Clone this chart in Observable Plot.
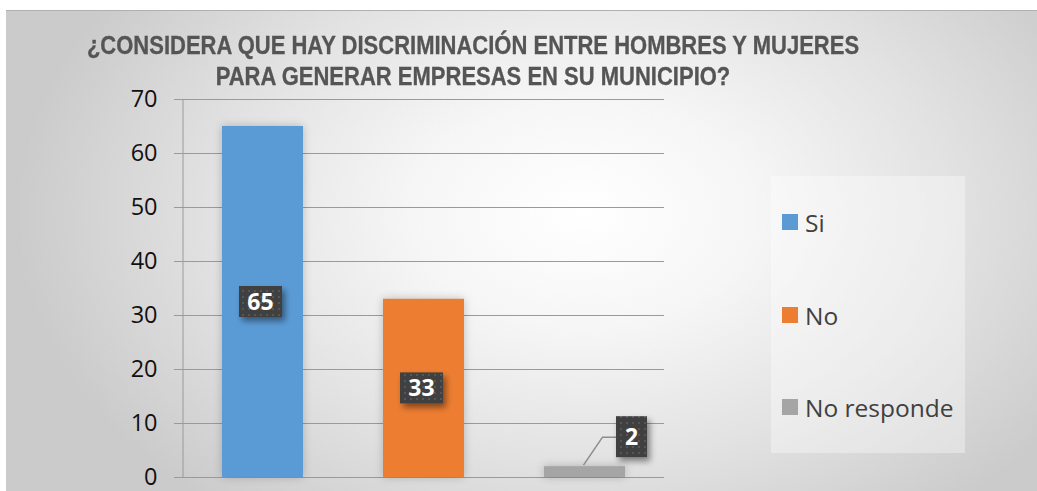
<!DOCTYPE html>
<html><head><meta charset="utf-8">
<script src="https://cdn.jsdelivr.net/npm/d3@7"></script>
<script src="https://cdn.jsdelivr.net/npm/@observablehq/plot@0.6"></script>
<style>
body{margin:0;background:#fff;}
#wrap{position:relative;width:1037px;height:491px;overflow:hidden;font-family:"Open Sans",sans-serif;}
#bg{position:absolute;left:6px;top:10px;right:0;bottom:0;
  background:radial-gradient(ellipse 55% 80% at 56% 42%, #ffffff 0%, #f6f6f6 30%, #e2e2e2 65%, #cbcbcb 100%);
  border-top:1px solid #b0b0b0;}
#title{position:absolute;left:0;width:946px;top:30px;text-align:center;font-weight:bold;color:#555555;
  font-family:"Liberation Sans",Arial,sans-serif;font-size:25px;line-height:31px;
  transform:scaleX(0.88);transform-origin:473px 0;-webkit-text-stroke:0.3px #555555;}
#chart{position:absolute;left:0;top:0;}
#legend{position:absolute;left:771px;top:176px;width:194px;height:277px;background:rgba(255,255,255,0.35);}
.li{position:absolute;left:11px;height:30px;display:flex;align-items:center;color:#404040;font-size:24.5px;}
.li span.sw{display:inline-block;width:16px;height:16px;margin-right:7px;}
svg g[aria-label="bar"] rect{filter:drop-shadow(0 0 4px rgba(0,0,0,0.22));}
</style>
</head><body>
<div id="wrap"><div id="bg"></div><div id="title">¿CONSIDERA QUE HAY DISCRIMINACIÓN ENTRE HOMBRES Y MUJERES<br>PARA GENERAR EMPRESAS EN SU MUNICIPIO?</div><div id="chart"></div><div id="legend"></div></div>
<script>
const categories = ["Si", "No", "No responde"];
const values = [65, 33, 2];
const colors = ["#5B9BD5", "#ED7D31", "#A5A5A5"];
const yTicks = [0, 10, 20, 30, 40, 50, 60, 70];

const data = categories.map((c, i) => ({category: c, value: values[i]}));

function leftAxisLine(index, scales, vals, dims) {
  const g = d3.create("svg:g");
  g.append("line")
    .attr("x1", dims.marginLeft).attr("x2", dims.marginLeft)
    .attr("y1", scales.y(70)).attr("y2", scales.y(0))
    .attr("stroke", "#9a9a9a");
  return g.node();
}

function dataLabels(index, scales, vals, dims) {
  const g = d3.create("svg:g");
  const defs = g.append("defs");
  const pat = defs.append("pattern").attr("id", "dots").attr("patternUnits", "userSpaceOnUse")
    .attr("width", 6).attr("height", 6);
  pat.append("rect").attr("width", 6).attr("height", 6).attr("fill", "#404040");
  pat.append("rect").attr("x", 2).attr("y", 2).attr("width", 2).attr("height", 2).attr("fill", "#575757");
  const f = defs.append("filter").attr("id", "lblshadow").attr("x", "-50%").attr("y", "-50%").attr("width", "200%").attr("height", "200%");
  f.append("feDropShadow").attr("dx", 3).attr("dy", 4).attr("stdDeviation", 3).attr("flood-color", "#000").attr("flood-opacity", 0.45);
  const bw = scales.x.bandwidth();
  for (const d of data) {
    const cx = scales.x(d.category) + bw / 2;
    const yTop = scales.y(d.value), y0 = scales.y(0);
    const txt = String(d.value);
    let w, h, bx, by;
    if (y0 - yTop > 50) {
      w = 14 * txt.length + 15; h = 31;
      bx = cx - w / 2 - 2; by = (yTop + y0) / 2 - h / 2;
    } else {
      w = 31; h = 41;
      bx = cx + 31.5; by = yTop - 50;
      g.append("polyline")
        .attr("points", `${cx - 1},${yTop - 1} ${cx + 18},${by + 21} ${bx},${by + 21}`)
        .attr("fill", "none").attr("stroke", "#8c8c8c").attr("stroke-width", 1.5);
    }
    g.append("rect").attr("x", bx).attr("y", by).attr("width", w).attr("height", h)
      .attr("fill", "url(#dots)").attr("filter", "url(#lblshadow)");
    g.append("text").attr("x", bx + w / 2).attr("y", by + h / 2).attr("dy", "0.35em")
      .attr("text-anchor", "middle").attr("fill", "#fff").attr("font-weight", "bold")
      .attr("font-size", 23).attr("font-family", "'Open Sans', sans-serif").text(txt);
  }
  return g.node();
}

const chart = Plot.plot({
  width: 1037,
  height: 491,
  marginTop: 99,
  marginBottom: 14,
  marginLeft: 183,
  marginRight: 373,
  x: {domain: categories, paddingInner: 0.497, paddingOuter: 0.242, axis: null},
  y: {domain: [0, 70], axis: null},
  color: {domain: categories, range: colors},
  style: {background: "transparent", fontFamily: "'Open Sans', sans-serif", overflow: "visible"},
  marks: [
    Plot.gridY(yTicks, {stroke: "#9a9a9a", strokeOpacity: 1}),
    leftAxisLine,
    Plot.barY(data, {x: "category", y: "value", fill: "category"}),
    Plot.axisY(yTicks, {label: null, tickSize: 9, tickPadding: 17, fontSize: 23.5, stroke: "#9a9a9a", fill: "#111", tickFormat: d => String(d)}),
    dataLabels
  ]
});
document.getElementById("chart").appendChild(chart);

const legend = d3.select("#legend");
const legendTops = [31, 124, 216];
categories.forEach((c, i) => {
  const item = legend.append("div").attr("class", "li").style("top", legendTops[i] + "px");
  item.append("span").attr("class", "sw").style("background", colors[i]);
  item.append("span").text(c);
});
</script>
</body></html>
